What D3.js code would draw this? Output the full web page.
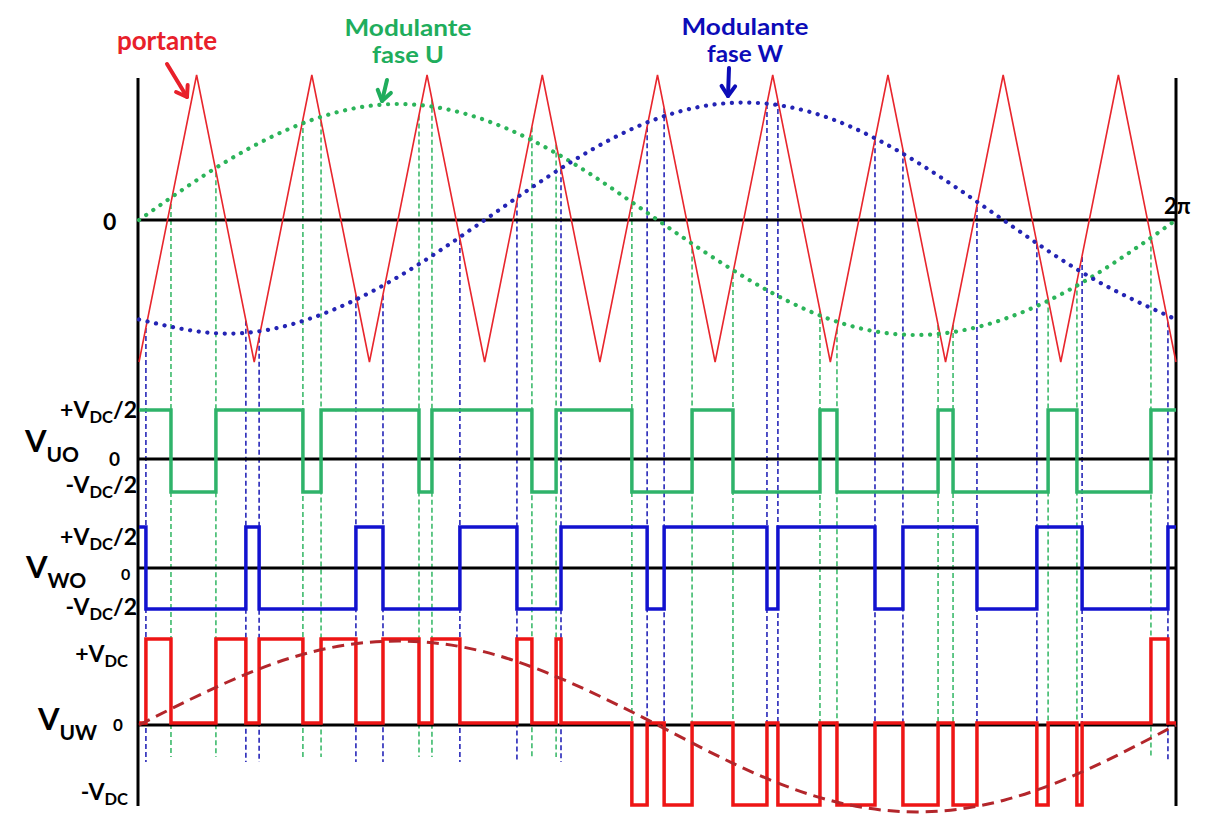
<!DOCTYPE html>
<html>
<head>
<meta charset="utf-8">
<script src="https://cdn.jsdelivr.net/npm/d3@7"></script>
<style>
  body { margin: 0; background: #fff; }
  svg { display: block; }
  text { font-family: Lato, "Open Sans", sans-serif; font-weight: bold; }
</style>
</head>
<body>
<div id="chart"></div>
<script>
// angles in degrees over one fundamental period (0 .. 2π)
const carrierAngles = [0, 20, 40, 60, 80, 100, 120, 140, 160, 180, 200, 220, 240, 260, 280, 300, 320, 340, 360];
const carrierValues = [-1, 1, -1, 1, -1, 1, -1, 1, -1, 1, -1, 1, -1, 1, -1, 1, -1, 1, -1];

const sineAngles = [0, 30, 60, 90, 120, 150, 180, 210, 240, 270, 300, 330, 360];
const modU = [0, 0.40, 0.69, 0.80, 0.69, 0.40, 0, -0.40, -0.70, -0.81, -0.70, -0.41, 0];
const modW = [-0.70, -0.80, -0.69, -0.40, 0, 0.40, 0.70, 0.81, 0.70, 0.40, 0, -0.40, -0.70];
const fundUW = [0, 0.50, 0.87, 1.0, 0.87, 0.50, 0, -0.53, -0.92, -1.06, -0.92, -0.53, 0];

// switching instants (degrees)
const switchU = [11.1, 26.7, 56.9, 63.2, 97.2, 101.7, 136.4, 144.8, 171.1, 192.0, 206.2, 236.4, 242.3, 277.4, 282.6, 315.6, 325.6, 351.3];
const switchW = [2.4, 37.1, 41.7, 75.3, 84.7, 111.4, 131.2, 146.5, 176.4, 182.3, 218.0, 221.8, 255.5, 265.2, 290.9, 311.7, 327.4, 357.2];
const startU = 1;   // +Vdc/2 at θ = 0
const startW = 1;

const width = 1209, height = 816;

const svg = d3.select('#chart').append('svg')
  .attr('width', width)
  .attr('height', height);

svg.append('rect').attr('width', width).attr('height', height).attr('fill', '#fff');

const x = d3.scaleLinear().domain([0, 360]).range([139, 1176]);
const yTop = d3.scaleLinear().domain([-1, 0, 1]).range([362, 220, 75]);
const yU = d3.scaleLinear().domain([-0.5, 0, 0.5]).range([492, 459, 410]);
const yW = d3.scaleLinear().domain([-0.5, 0, 0.5]).range([609, 568, 527]);
const yUW = d3.scaleLinear().domain([-1, 0, 1]).range([807, 725, 641]);

const carrierAt = d3.scaleLinear().domain(carrierAngles).range(carrierValues);

function steps(times, start) {
  let v = start;
  const pts = [[0, v]];
  times.forEach(t => { v = -v; pts.push([t, v]); });
  pts.push([360, v]);
  return pts;
}

const stepsU = steps(switchU, startU).map(d => [d[0], d[1] / 2]);
const stepsW = steps(switchW, startW).map(d => [d[0], d[1] / 2]);

// line-to-line voltage from the two leg states
const events = switchU.map(t => ({ t, leg: 'U' }))
  .concat(switchW.map(t => ({ t, leg: 'W' })))
  .sort((a, b) => a.t - b.t);
let u = startU, w = startW;
const stepsUW = [[0, (u - w) / 2]];
events.forEach(e => {
  if (e.leg === 'U') u = -u; else w = -w;
  stepsUW.push([e.t, (u - w) / 2]);
});
stepsUW.push([360, (u - w) / 2]);

// dashed guide lines
svg.append('g')
  .attr('stroke', '#3dba6c')
  .attr('stroke-width', 1.6)
  .attr('stroke-dasharray', '5,3')
  .selectAll('line')
  .data(switchU)
  .join('line')
  .attr('x1', d => x(d)).attr('x2', d => x(d))
  .attr('y1', d => yTop(carrierAt(d)))
  .attr('y2', 757);

svg.append('g')
  .attr('stroke', '#2626b8')
  .attr('stroke-width', 1.6)
  .attr('stroke-dasharray', '5,3')
  .selectAll('line')
  .data(switchW)
  .join('line')
  .attr('x1', d => x(d)).attr('x2', d => x(d))
  .attr('y1', d => yTop(carrierAt(d)))
  .attr('y2', 762);

// axes
const axes = svg.append('g').attr('stroke', '#000').attr('stroke-width', 3);
axes.append('line').attr('x1', x(0) - 1).attr('x2', x(0) - 1).attr('y1', 78).attr('y2', 806);
axes.append('line').attr('x1', x(360)).attr('x2', x(360)).attr('y1', 78).attr('y2', 806);
[[yTop, 0], [yU, 0], [yW, 0], [yUW, 0]].forEach(([s, v]) => {
  axes.append('line').attr('x1', x(0) - 1).attr('x2', x(360)).attr('y1', s(v)).attr('y2', s(v));
});

// carrier
svg.append('path')
  .datum(d3.zip(carrierAngles, carrierValues))
  .attr('fill', 'none')
  .attr('stroke', '#e8262d')
  .attr('stroke-width', 1.6)
  .attr('d', d3.line().x(d => x(d[0])).y(d => yTop(d[1])));

// modulating waves (dotted)
const sineLine = d3.line().curve(d3.curveNatural).x(d => x(d[0])).y(d => yTop(d[1]));
[[modU, '#2cb45a'], [modW, '#2424b4']].forEach(([vals, col]) => {
  svg.append('path')
    .datum(d3.zip(sineAngles, vals))
    .attr('fill', 'none')
    .attr('stroke', col)
    .attr('stroke-width', 4.2)
    .attr('stroke-linecap', 'round')
    .attr('stroke-dasharray', '0.1,8.6')
    .attr('d', sineLine);
});

// leg voltages
const stepLine = s => d3.line().curve(d3.curveStepAfter).x(d => x(d[0])).y(d => s(d[1]));
svg.append('path').datum(stepsU)
  .attr('fill', 'none').attr('stroke', '#2fb36a').attr('stroke-width', 3.5)
  .attr('d', stepLine(yU));
svg.append('path').datum(stepsW)
  .attr('fill', 'none').attr('stroke', '#1212cf').attr('stroke-width', 3.5)
  .attr('d', stepLine(yW));
svg.append('path').datum(stepsUW)
  .attr('fill', 'none').attr('stroke', '#ee1515').attr('stroke-width', 3.5)
  .attr('transform', 'translate(0,-2)')
  .attr('d', stepLine(yUW));

// fundamental of V_UW (dashed)
svg.append('path')
  .datum(d3.zip(sineAngles, fundUW))
  .attr('fill', 'none')
  .attr('stroke', '#b3262b')
  .attr('stroke-width', 3)
  .attr('stroke-dasharray', '12,7')
  .attr('d', d3.line().curve(d3.curveNatural).x(d => x(d[0])).y(d => yUW(d[1])));

// labels
function label(px, py, parts, size, opts = {}) {
  const sub = opts.subOffset ?? size * 0.26;
  const t = svg.append('text')
    .attr('x', px).attr('y', py)
    .attr('font-size', size)
    .attr('text-anchor', opts.anchor || 'start')
    .attr('fill', opts.color || '#000');
  if (opts.weight) t.attr('font-weight', opts.weight);
  let inSub = false;
  parts.forEach(p => {
    const isSub = Array.isArray(p);
    const sp = t.append('tspan').text(isSub ? p[0] : p);
    if (isSub) {
      sp.attr('font-size', opts.subSize || size * 0.72);
      if (!inSub) sp.attr('dy', sub);
    } else if (inSub) {
      sp.attr('dy', -sub);
    }
    inSub = isSub;
  });
  return t;
}

// two-line caption in one text element
function caption(cx, cy, lines, lens, color) {
  const t = svg.append('text')
    .attr('x', cx).attr('y', cy)
    .attr('font-size', 22)
    .attr('text-anchor', 'middle')
    .attr('fill', color);
  lines.forEach((l, i) => {
    t.append('tspan')
      .attr('x', cx)
      .attr('dy', i ? 27 : 0)
      .attr('textLength', lens[i])
      .attr('lengthAdjust', 'spacingAndGlyphs')
      .text(l);
  });
}

label(103, 230, ['0'], 23);
label(1164, 214, ['2π'], 22);

label(137, 418, ['+V', ['DC'], '/2'], 23, { anchor: 'end', subOffset: 5 });
label(137, 493, ['-V', ['DC'], '/2'], 23, { anchor: 'end', subOffset: 5 });
label(25, 452, ['V', ['UO']], 31, { subOffset: 10, subSize: 21 });
label(109, 466, ['0'], 19);

label(137, 545, ['+V', ['DC'], '/2'], 23, { anchor: 'end', subOffset: 5 });
label(137, 615, ['-V', ['DC'], '/2'], 23, { anchor: 'end', subOffset: 5 });
label(26, 578, ['V', ['WO']], 31, { subOffset: 10, subSize: 21 });
label(121, 580, ['0'], 16);

label(128, 662, ['+V', ['DC']], 23, { anchor: 'end', subOffset: 5 });
label(128, 800, ['-V', ['DC']], 23, { anchor: 'end', subOffset: 5 });
label(38, 730, ['V', ['UW']], 31, { subOffset: 10, subSize: 21 });
label(113, 731, ['0'], 17, { weight: 'normal' });

label(167, 50, ['portante'], 26, { anchor: 'middle', color: '#e8202a' });
caption(408, 36, ['Modulante', 'fase U'], [127, 72], '#20ad5c');
caption(745, 35, ['Modulante', 'fase W'], [127, 76], '#0c0cb8');

function arrow(x1, y1, x2, y2, color) {
  const a = Math.atan2(y2 - y1, x2 - x1), h = 12, s = 0.6;
  const g = svg.append('g').attr('stroke', color).attr('stroke-width', 4)
    .attr('fill', 'none').attr('stroke-linecap', 'round').attr('stroke-linejoin', 'round');
  g.append('line').attr('x1', x1).attr('y1', y1).attr('x2', x2).attr('y2', y2);
  g.append('path').attr('d', d3.line()([
    [x2 - h * Math.cos(a - s), y2 - h * Math.sin(a - s)],
    [x2, y2],
    [x2 - h * Math.cos(a + s), y2 - h * Math.sin(a + s)]
  ]));
}
arrow(167, 64, 187, 97, '#e8202a');
arrow(387, 80, 382, 101, '#20ad5c');
arrow(729, 68, 728, 96, '#0c0cb8');
</script>
</body>
</html>
